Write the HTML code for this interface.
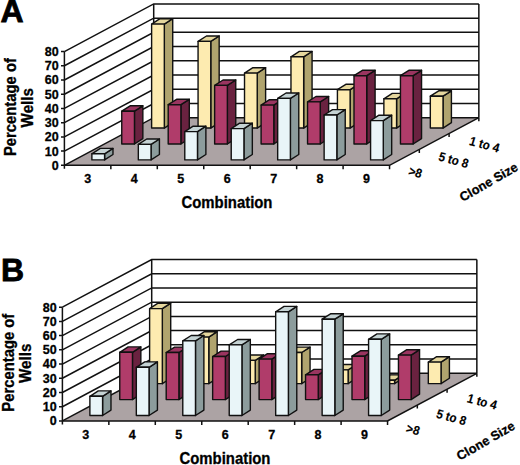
<!DOCTYPE html>
<html><head><meta charset="utf-8"><style>
html,body{margin:0;padding:0;background:#fff;}
body{width:520px;height:465px;overflow:hidden;}
svg{display:block;}
text{font-family:"Liberation Sans",sans-serif;font-weight:bold;fill:#000;stroke:#000;stroke-width:0.3px;}
.t12{font-size:12.5px;}
.dl{stroke-width:0.15px;}
.t15{font-size:15.6px;}
.t12b{font-size:12.8px;}
.t33{font-size:32px;stroke:#000;stroke-width:0.8px;}
</style></head><body>
<svg width="520" height="465" viewBox="0 0 520 465">
<rect width="520" height="465" fill="#fff"/>
<polygon points="64.4,165.35 64.4,51.55 153.7,3.9 153.7,117.7" fill="#fff"/>
<polygon points="153.7,117.7 153.7,3.9 478.85,3.9 478.85,117.7" fill="#fff"/>
<polygon points="64.4,165.35 389.55,165.35 478.85,117.7 153.7,117.7" fill="#aca3a4"/>
<path d="M64.4 165.35L153.7 117.7H478.85 M64.4 151.12L153.7 103.47H478.85 M64.4 136.9L153.7 89.25H478.85 M64.4 122.67L153.7 75.03H478.85 M64.4 108.45L153.7 60.8H478.85 M64.4 94.22L153.7 46.57H478.85 M64.4 80L153.7 32.35H478.85 M64.4 65.78L153.7 18.13H478.85 M64.4 51.55L153.7 3.9H478.85 M153.7 117.7V3.9 M478.85 117.7V3.9" stroke="#111" stroke-width="1.5" fill="none"/>
<path d="M64.4 165.35H389.55L478.85 117.7" stroke="#111" stroke-width="1.5" fill="none"/>
<polygon points="164.32,128.04 164.32,24.1 172.72,18.7 172.72,122.64" fill="#b0a46e" stroke="#111" stroke-width="1.4" stroke-linejoin="round"/>
<polygon points="151.62,24.1 160.02,18.7 172.72,18.7 164.32,24.1" fill="#e5d79e" stroke="#111" stroke-width="1.4" stroke-linejoin="round"/>
<polygon points="151.62,128.04 151.62,24.1 164.32,24.1 164.32,128.04" fill="#fdebb0" stroke="#111" stroke-width="1.4" stroke-linejoin="round"/>
<polygon points="210.77,128.04 210.77,41.4 219.17,36 219.17,122.64" fill="#b0a46e" stroke="#111" stroke-width="1.4" stroke-linejoin="round"/>
<polygon points="198.07,41.4 206.47,36 219.17,36 210.77,41.4" fill="#e5d79e" stroke="#111" stroke-width="1.4" stroke-linejoin="round"/>
<polygon points="198.07,128.04 198.07,41.4 210.77,41.4 210.77,128.04" fill="#fdebb0" stroke="#111" stroke-width="1.4" stroke-linejoin="round"/>
<polygon points="257.22,128.04 257.22,73.1 265.62,67.7 265.62,122.64" fill="#b0a46e" stroke="#111" stroke-width="1.4" stroke-linejoin="round"/>
<polygon points="244.52,73.1 252.92,67.7 265.62,67.7 257.22,73.1" fill="#e5d79e" stroke="#111" stroke-width="1.4" stroke-linejoin="round"/>
<polygon points="244.52,128.04 244.52,73.1 257.22,73.1 257.22,128.04" fill="#fdebb0" stroke="#111" stroke-width="1.4" stroke-linejoin="round"/>
<polygon points="303.67,128.04 303.67,56.8 312.07,51.4 312.07,122.64" fill="#b0a46e" stroke="#111" stroke-width="1.4" stroke-linejoin="round"/>
<polygon points="290.97,56.8 299.37,51.4 312.07,51.4 303.67,56.8" fill="#e5d79e" stroke="#111" stroke-width="1.4" stroke-linejoin="round"/>
<polygon points="290.97,128.04 290.97,56.8 303.67,56.8 303.67,128.04" fill="#fdebb0" stroke="#111" stroke-width="1.4" stroke-linejoin="round"/>
<polygon points="350.12,128.04 350.12,89.7 358.52,84.3 358.52,122.64" fill="#b0a46e" stroke="#111" stroke-width="1.4" stroke-linejoin="round"/>
<polygon points="337.42,89.7 345.82,84.3 358.52,84.3 350.12,89.7" fill="#e5d79e" stroke="#111" stroke-width="1.4" stroke-linejoin="round"/>
<polygon points="337.42,128.04 337.42,89.7 350.12,89.7 350.12,128.04" fill="#fdebb0" stroke="#111" stroke-width="1.4" stroke-linejoin="round"/>
<polygon points="396.57,128.04 396.57,98.8 404.97,93.4 404.97,122.64" fill="#b0a46e" stroke="#111" stroke-width="1.4" stroke-linejoin="round"/>
<polygon points="383.87,98.8 392.27,93.4 404.97,93.4 396.57,98.8" fill="#e5d79e" stroke="#111" stroke-width="1.4" stroke-linejoin="round"/>
<polygon points="383.87,128.04 383.87,98.8 396.57,98.8 396.57,128.04" fill="#fdebb0" stroke="#111" stroke-width="1.4" stroke-linejoin="round"/>
<polygon points="443.02,128.04 443.02,96.2 451.42,90.8 451.42,122.64" fill="#b0a46e" stroke="#111" stroke-width="1.4" stroke-linejoin="round"/>
<polygon points="430.32,96.2 438.72,90.8 451.42,90.8 443.02,96.2" fill="#e5d79e" stroke="#111" stroke-width="1.4" stroke-linejoin="round"/>
<polygon points="430.32,128.04 430.32,96.2 443.02,96.2 443.02,128.04" fill="#fdebb0" stroke="#111" stroke-width="1.4" stroke-linejoin="round"/>
<polygon points="134.45,143.98 134.45,111.2 142.85,105.8 142.85,138.58" fill="#6a2240" stroke="#111" stroke-width="1.4" stroke-linejoin="round"/>
<polygon points="121.75,111.2 130.15,105.8 142.85,105.8 134.45,111.2" fill="#9a3560" stroke="#111" stroke-width="1.4" stroke-linejoin="round"/>
<polygon points="121.75,143.98 121.75,111.2 134.45,111.2 134.45,143.98" fill="#b03c6a" stroke="#111" stroke-width="1.4" stroke-linejoin="round"/>
<polygon points="180.9,143.98 180.9,104.7 189.3,99.3 189.3,138.58" fill="#6a2240" stroke="#111" stroke-width="1.4" stroke-linejoin="round"/>
<polygon points="168.2,104.7 176.6,99.3 189.3,99.3 180.9,104.7" fill="#9a3560" stroke="#111" stroke-width="1.4" stroke-linejoin="round"/>
<polygon points="168.2,143.98 168.2,104.7 180.9,104.7 180.9,143.98" fill="#b03c6a" stroke="#111" stroke-width="1.4" stroke-linejoin="round"/>
<polygon points="227.35,143.98 227.35,85.4 235.75,80 235.75,138.58" fill="#6a2240" stroke="#111" stroke-width="1.4" stroke-linejoin="round"/>
<polygon points="214.65,85.4 223.05,80 235.75,80 227.35,85.4" fill="#9a3560" stroke="#111" stroke-width="1.4" stroke-linejoin="round"/>
<polygon points="214.65,143.98 214.65,85.4 227.35,85.4 227.35,143.98" fill="#b03c6a" stroke="#111" stroke-width="1.4" stroke-linejoin="round"/>
<polygon points="273.8,143.98 273.8,105.1 282.2,99.7 282.2,138.58" fill="#6a2240" stroke="#111" stroke-width="1.4" stroke-linejoin="round"/>
<polygon points="261.1,105.1 269.5,99.7 282.2,99.7 273.8,105.1" fill="#9a3560" stroke="#111" stroke-width="1.4" stroke-linejoin="round"/>
<polygon points="261.1,143.98 261.1,105.1 273.8,105.1 273.8,143.98" fill="#b03c6a" stroke="#111" stroke-width="1.4" stroke-linejoin="round"/>
<polygon points="320.25,143.98 320.25,101.9 328.65,96.5 328.65,138.58" fill="#6a2240" stroke="#111" stroke-width="1.4" stroke-linejoin="round"/>
<polygon points="307.55,101.9 315.95,96.5 328.65,96.5 320.25,101.9" fill="#9a3560" stroke="#111" stroke-width="1.4" stroke-linejoin="round"/>
<polygon points="307.55,143.98 307.55,101.9 320.25,101.9 320.25,143.98" fill="#b03c6a" stroke="#111" stroke-width="1.4" stroke-linejoin="round"/>
<polygon points="366.7,143.98 366.7,75.7 375.1,70.3 375.1,138.58" fill="#6a2240" stroke="#111" stroke-width="1.4" stroke-linejoin="round"/>
<polygon points="354,75.7 362.4,70.3 375.1,70.3 366.7,75.7" fill="#9a3560" stroke="#111" stroke-width="1.4" stroke-linejoin="round"/>
<polygon points="354,143.98 354,75.7 366.7,75.7 366.7,143.98" fill="#b03c6a" stroke="#111" stroke-width="1.4" stroke-linejoin="round"/>
<polygon points="413.15,143.98 413.15,75.7 421.55,70.3 421.55,138.58" fill="#6a2240" stroke="#111" stroke-width="1.4" stroke-linejoin="round"/>
<polygon points="400.45,75.7 408.85,70.3 421.55,70.3 413.15,75.7" fill="#9a3560" stroke="#111" stroke-width="1.4" stroke-linejoin="round"/>
<polygon points="400.45,143.98 400.45,75.7 413.15,75.7 413.15,143.98" fill="#b03c6a" stroke="#111" stroke-width="1.4" stroke-linejoin="round"/>
<polygon points="104.58,159.92 104.58,153.8 112.98,148.4 112.98,154.52" fill="#8c9c9c" stroke="#111" stroke-width="1.4" stroke-linejoin="round"/>
<polygon points="91.88,153.8 100.28,148.4 112.98,148.4 104.58,153.8" fill="#c5d3d4" stroke="#111" stroke-width="1.4" stroke-linejoin="round"/>
<polygon points="91.88,159.92 91.88,153.8 104.58,153.8 104.58,159.92" fill="#e9f5f8" stroke="#111" stroke-width="1.4" stroke-linejoin="round"/>
<polygon points="151.03,159.92 151.03,144.4 159.43,139 159.43,154.52" fill="#8c9c9c" stroke="#111" stroke-width="1.4" stroke-linejoin="round"/>
<polygon points="138.33,144.4 146.73,139 159.43,139 151.03,144.4" fill="#c5d3d4" stroke="#111" stroke-width="1.4" stroke-linejoin="round"/>
<polygon points="138.33,159.92 138.33,144.4 151.03,144.4 151.03,159.92" fill="#e9f5f8" stroke="#111" stroke-width="1.4" stroke-linejoin="round"/>
<polygon points="197.48,159.92 197.48,131.6 205.88,126.2 205.88,154.52" fill="#8c9c9c" stroke="#111" stroke-width="1.4" stroke-linejoin="round"/>
<polygon points="184.78,131.6 193.18,126.2 205.88,126.2 197.48,131.6" fill="#c5d3d4" stroke="#111" stroke-width="1.4" stroke-linejoin="round"/>
<polygon points="184.78,159.92 184.78,131.6 197.48,131.6 197.48,159.92" fill="#e9f5f8" stroke="#111" stroke-width="1.4" stroke-linejoin="round"/>
<polygon points="243.93,159.92 243.93,128.6 252.33,123.2 252.33,154.52" fill="#8c9c9c" stroke="#111" stroke-width="1.4" stroke-linejoin="round"/>
<polygon points="231.23,128.6 239.63,123.2 252.33,123.2 243.93,128.6" fill="#c5d3d4" stroke="#111" stroke-width="1.4" stroke-linejoin="round"/>
<polygon points="231.23,159.92 231.23,128.6 243.93,128.6 243.93,159.92" fill="#e9f5f8" stroke="#111" stroke-width="1.4" stroke-linejoin="round"/>
<polygon points="290.38,159.92 290.38,98.4 298.78,93 298.78,154.52" fill="#8c9c9c" stroke="#111" stroke-width="1.4" stroke-linejoin="round"/>
<polygon points="277.68,98.4 286.08,93 298.78,93 290.38,98.4" fill="#c5d3d4" stroke="#111" stroke-width="1.4" stroke-linejoin="round"/>
<polygon points="277.68,159.92 277.68,98.4 290.38,98.4 290.38,159.92" fill="#e9f5f8" stroke="#111" stroke-width="1.4" stroke-linejoin="round"/>
<polygon points="336.83,159.92 336.83,115 345.23,109.6 345.23,154.52" fill="#8c9c9c" stroke="#111" stroke-width="1.4" stroke-linejoin="round"/>
<polygon points="324.13,115 332.53,109.6 345.23,109.6 336.83,115" fill="#c5d3d4" stroke="#111" stroke-width="1.4" stroke-linejoin="round"/>
<polygon points="324.13,159.92 324.13,115 336.83,115 336.83,159.92" fill="#e9f5f8" stroke="#111" stroke-width="1.4" stroke-linejoin="round"/>
<polygon points="383.28,159.92 383.28,120.6 391.68,115.2 391.68,154.52" fill="#8c9c9c" stroke="#111" stroke-width="1.4" stroke-linejoin="round"/>
<polygon points="370.58,120.6 378.98,115.2 391.68,115.2 383.28,120.6" fill="#c5d3d4" stroke="#111" stroke-width="1.4" stroke-linejoin="round"/>
<polygon points="370.58,159.92 370.58,120.6 383.28,120.6 383.28,159.92" fill="#e9f5f8" stroke="#111" stroke-width="1.4" stroke-linejoin="round"/>
<path d="M64.4 51.55V168.85 M61 165.35H64.4 M61 151.12H64.4 M61 136.9H64.4 M61 122.67H64.4 M61 108.45H64.4 M61 94.22H64.4 M61 80H64.4 M61 65.78H64.4 M61 51.55H64.4 M110.85 165.35V169.35 M157.3 165.35V169.35 M203.75 165.35V169.35 M250.2 165.35V169.35 M296.65 165.35V169.35 M343.1 165.35V169.35 M389.55 165.35V169.35 M389.55 165.35V168.85 M419.32 149.47V152.97 M449.08 133.58V137.08 M478.85 117.7V121.2" stroke="#111" stroke-width="1.5" fill="none"/>
<text x="58.6" y="169.75" text-anchor="end" class="t12">0</text>
<text x="58.6" y="155.53" text-anchor="end" class="t12">10</text>
<text x="58.6" y="141.3" text-anchor="end" class="t12">20</text>
<text x="58.6" y="127.08" text-anchor="end" class="t12">30</text>
<text x="58.6" y="112.85" text-anchor="end" class="t12">40</text>
<text x="58.6" y="98.62" text-anchor="end" class="t12">50</text>
<text x="58.6" y="84.4" text-anchor="end" class="t12">60</text>
<text x="58.6" y="70.18" text-anchor="end" class="t12">70</text>
<text x="58.6" y="55.95" text-anchor="end" class="t12">80</text>
<text x="87.83" y="182.95" text-anchor="middle" class="t12">3</text>
<text x="134.28" y="182.95" text-anchor="middle" class="t12">4</text>
<text x="180.73" y="182.95" text-anchor="middle" class="t12">5</text>
<text x="227.18" y="182.95" text-anchor="middle" class="t12">6</text>
<text x="273.62" y="182.95" text-anchor="middle" class="t12">7</text>
<text x="320.07" y="182.95" text-anchor="middle" class="t12">8</text>
<text x="366.53" y="182.95" text-anchor="middle" class="t12">9</text>
<text x="226.98" y="208.15" text-anchor="middle" class="t15" textLength="91" lengthAdjust="spacingAndGlyphs">Combination</text>
<text transform="matrix(0.9,0.24,-0.3,0.97,407.63,174.81)" class="t12 dl">&gt;8</text>
<text transform="matrix(0.9,0.24,-0.3,0.97,437.7,160.33)" class="t12 dl">5 to 8</text>
<text transform="matrix(0.9,0.24,-0.3,0.97,468.57,144.74)" class="t12 dl">1 to 4</text>
<polygon points="62.4,420.95 62.4,307.15 151.7,259.5 151.7,373.3" fill="#fff"/>
<polygon points="151.7,373.3 151.7,259.5 476.85,259.5 476.85,373.3" fill="#fff"/>
<polygon points="62.4,420.95 387.55,420.95 476.85,373.3 151.7,373.3" fill="#aca3a4"/>
<path d="M62.4 420.95L151.7 373.3H476.85 M62.4 406.72L151.7 359.07H476.85 M62.4 392.5L151.7 344.85H476.85 M62.4 378.27L151.7 330.62H476.85 M62.4 364.05L151.7 316.4H476.85 M62.4 349.82L151.7 302.18H476.85 M62.4 335.6L151.7 287.95H476.85 M62.4 321.38L151.7 273.73H476.85 M62.4 307.15L151.7 259.5H476.85 M151.7 373.3V259.5 M476.85 373.3V259.5" stroke="#111" stroke-width="1.5" fill="none"/>
<path d="M62.4 420.95H387.55L476.85 373.3" stroke="#111" stroke-width="1.5" fill="none"/>
<polygon points="162.32,383.64 162.32,308.6 170.72,303.2 170.72,378.24" fill="#b0a46e" stroke="#111" stroke-width="1.4" stroke-linejoin="round"/>
<polygon points="149.62,308.6 158.02,303.2 170.72,303.2 162.32,308.6" fill="#e5d79e" stroke="#111" stroke-width="1.4" stroke-linejoin="round"/>
<polygon points="149.62,383.64 149.62,308.6 162.32,308.6 162.32,383.64" fill="#fdebb0" stroke="#111" stroke-width="1.4" stroke-linejoin="round"/>
<polygon points="208.77,383.64 208.77,337.1 217.17,331.7 217.17,378.24" fill="#b0a46e" stroke="#111" stroke-width="1.4" stroke-linejoin="round"/>
<polygon points="196.07,337.1 204.47,331.7 217.17,331.7 208.77,337.1" fill="#e5d79e" stroke="#111" stroke-width="1.4" stroke-linejoin="round"/>
<polygon points="196.07,383.64 196.07,337.1 208.77,337.1 208.77,383.64" fill="#fdebb0" stroke="#111" stroke-width="1.4" stroke-linejoin="round"/>
<polygon points="255.22,383.64 255.22,360.4 263.62,355 263.62,378.24" fill="#b0a46e" stroke="#111" stroke-width="1.4" stroke-linejoin="round"/>
<polygon points="242.52,360.4 250.92,355 263.62,355 255.22,360.4" fill="#e5d79e" stroke="#111" stroke-width="1.4" stroke-linejoin="round"/>
<polygon points="242.52,383.64 242.52,360.4 255.22,360.4 255.22,383.64" fill="#fdebb0" stroke="#111" stroke-width="1.4" stroke-linejoin="round"/>
<polygon points="301.67,383.64 301.67,352.5 310.07,347.1 310.07,378.24" fill="#b0a46e" stroke="#111" stroke-width="1.4" stroke-linejoin="round"/>
<polygon points="288.97,352.5 297.37,347.1 310.07,347.1 301.67,352.5" fill="#e5d79e" stroke="#111" stroke-width="1.4" stroke-linejoin="round"/>
<polygon points="288.97,383.64 288.97,352.5 301.67,352.5 301.67,383.64" fill="#fdebb0" stroke="#111" stroke-width="1.4" stroke-linejoin="round"/>
<polygon points="348.12,383.64 348.12,369.9 356.52,364.5 356.52,378.24" fill="#b0a46e" stroke="#111" stroke-width="1.4" stroke-linejoin="round"/>
<polygon points="335.42,369.9 343.82,364.5 356.52,364.5 348.12,369.9" fill="#e5d79e" stroke="#111" stroke-width="1.4" stroke-linejoin="round"/>
<polygon points="335.42,383.64 335.42,369.9 348.12,369.9 348.12,383.64" fill="#fdebb0" stroke="#111" stroke-width="1.4" stroke-linejoin="round"/>
<polygon points="394.57,383.64 394.57,380.3 402.97,374.9 402.97,378.24" fill="#b0a46e" stroke="#111" stroke-width="1.4" stroke-linejoin="round"/>
<polygon points="381.87,380.3 390.27,374.9 402.97,374.9 394.57,380.3" fill="#e5d79e" stroke="#111" stroke-width="1.4" stroke-linejoin="round"/>
<polygon points="381.87,383.64 381.87,380.3 394.57,380.3 394.57,383.64" fill="#fdebb0" stroke="#111" stroke-width="1.4" stroke-linejoin="round"/>
<polygon points="441.02,383.64 441.02,362.1 449.42,356.7 449.42,378.24" fill="#b0a46e" stroke="#111" stroke-width="1.4" stroke-linejoin="round"/>
<polygon points="428.32,362.1 436.72,356.7 449.42,356.7 441.02,362.1" fill="#e5d79e" stroke="#111" stroke-width="1.4" stroke-linejoin="round"/>
<polygon points="428.32,383.64 428.32,362.1 441.02,362.1 441.02,383.64" fill="#fdebb0" stroke="#111" stroke-width="1.4" stroke-linejoin="round"/>
<polygon points="132.45,399.58 132.45,352.3 140.85,346.9 140.85,394.18" fill="#6a2240" stroke="#111" stroke-width="1.4" stroke-linejoin="round"/>
<polygon points="119.75,352.3 128.15,346.9 140.85,346.9 132.45,352.3" fill="#9a3560" stroke="#111" stroke-width="1.4" stroke-linejoin="round"/>
<polygon points="119.75,399.58 119.75,352.3 132.45,352.3 132.45,399.58" fill="#b03c6a" stroke="#111" stroke-width="1.4" stroke-linejoin="round"/>
<polygon points="178.9,399.58 178.9,352.5 187.3,347.1 187.3,394.18" fill="#6a2240" stroke="#111" stroke-width="1.4" stroke-linejoin="round"/>
<polygon points="166.2,352.5 174.6,347.1 187.3,347.1 178.9,352.5" fill="#9a3560" stroke="#111" stroke-width="1.4" stroke-linejoin="round"/>
<polygon points="166.2,399.58 166.2,352.5 178.9,352.5 178.9,399.58" fill="#b03c6a" stroke="#111" stroke-width="1.4" stroke-linejoin="round"/>
<polygon points="225.35,399.58 225.35,356.5 233.75,351.1 233.75,394.18" fill="#6a2240" stroke="#111" stroke-width="1.4" stroke-linejoin="round"/>
<polygon points="212.65,356.5 221.05,351.1 233.75,351.1 225.35,356.5" fill="#9a3560" stroke="#111" stroke-width="1.4" stroke-linejoin="round"/>
<polygon points="212.65,399.58 212.65,356.5 225.35,356.5 225.35,399.58" fill="#b03c6a" stroke="#111" stroke-width="1.4" stroke-linejoin="round"/>
<polygon points="271.8,399.58 271.8,359.1 280.2,353.7 280.2,394.18" fill="#6a2240" stroke="#111" stroke-width="1.4" stroke-linejoin="round"/>
<polygon points="259.1,359.1 267.5,353.7 280.2,353.7 271.8,359.1" fill="#9a3560" stroke="#111" stroke-width="1.4" stroke-linejoin="round"/>
<polygon points="259.1,399.58 259.1,359.1 271.8,359.1 271.8,399.58" fill="#b03c6a" stroke="#111" stroke-width="1.4" stroke-linejoin="round"/>
<polygon points="318.25,399.58 318.25,374.8 326.65,369.4 326.65,394.18" fill="#6a2240" stroke="#111" stroke-width="1.4" stroke-linejoin="round"/>
<polygon points="305.55,374.8 313.95,369.4 326.65,369.4 318.25,374.8" fill="#9a3560" stroke="#111" stroke-width="1.4" stroke-linejoin="round"/>
<polygon points="305.55,399.58 305.55,374.8 318.25,374.8 318.25,399.58" fill="#b03c6a" stroke="#111" stroke-width="1.4" stroke-linejoin="round"/>
<polygon points="364.7,399.58 364.7,356.2 373.1,350.8 373.1,394.18" fill="#6a2240" stroke="#111" stroke-width="1.4" stroke-linejoin="round"/>
<polygon points="352,356.2 360.4,350.8 373.1,350.8 364.7,356.2" fill="#9a3560" stroke="#111" stroke-width="1.4" stroke-linejoin="round"/>
<polygon points="352,399.58 352,356.2 364.7,356.2 364.7,399.58" fill="#b03c6a" stroke="#111" stroke-width="1.4" stroke-linejoin="round"/>
<polygon points="411.15,399.58 411.15,355.1 419.55,349.7 419.55,394.18" fill="#6a2240" stroke="#111" stroke-width="1.4" stroke-linejoin="round"/>
<polygon points="398.45,355.1 406.85,349.7 419.55,349.7 411.15,355.1" fill="#9a3560" stroke="#111" stroke-width="1.4" stroke-linejoin="round"/>
<polygon points="398.45,399.58 398.45,355.1 411.15,355.1 411.15,399.58" fill="#b03c6a" stroke="#111" stroke-width="1.4" stroke-linejoin="round"/>
<polygon points="102.58,415.52 102.58,396.3 110.98,390.9 110.98,410.12" fill="#8c9c9c" stroke="#111" stroke-width="1.4" stroke-linejoin="round"/>
<polygon points="89.88,396.3 98.28,390.9 110.98,390.9 102.58,396.3" fill="#c5d3d4" stroke="#111" stroke-width="1.4" stroke-linejoin="round"/>
<polygon points="89.88,415.52 89.88,396.3 102.58,396.3 102.58,415.52" fill="#e9f5f8" stroke="#111" stroke-width="1.4" stroke-linejoin="round"/>
<polygon points="149.03,415.52 149.03,367.3 157.43,361.9 157.43,410.12" fill="#8c9c9c" stroke="#111" stroke-width="1.4" stroke-linejoin="round"/>
<polygon points="136.33,367.3 144.73,361.9 157.43,361.9 149.03,367.3" fill="#c5d3d4" stroke="#111" stroke-width="1.4" stroke-linejoin="round"/>
<polygon points="136.33,415.52 136.33,367.3 149.03,367.3 149.03,415.52" fill="#e9f5f8" stroke="#111" stroke-width="1.4" stroke-linejoin="round"/>
<polygon points="195.48,415.52 195.48,340.9 203.88,335.5 203.88,410.12" fill="#8c9c9c" stroke="#111" stroke-width="1.4" stroke-linejoin="round"/>
<polygon points="182.78,340.9 191.18,335.5 203.88,335.5 195.48,340.9" fill="#c5d3d4" stroke="#111" stroke-width="1.4" stroke-linejoin="round"/>
<polygon points="182.78,415.52 182.78,340.9 195.48,340.9 195.48,415.52" fill="#e9f5f8" stroke="#111" stroke-width="1.4" stroke-linejoin="round"/>
<polygon points="241.93,415.52 241.93,344.9 250.33,339.5 250.33,410.12" fill="#8c9c9c" stroke="#111" stroke-width="1.4" stroke-linejoin="round"/>
<polygon points="229.23,344.9 237.63,339.5 250.33,339.5 241.93,344.9" fill="#c5d3d4" stroke="#111" stroke-width="1.4" stroke-linejoin="round"/>
<polygon points="229.23,415.52 229.23,344.9 241.93,344.9 241.93,415.52" fill="#e9f5f8" stroke="#111" stroke-width="1.4" stroke-linejoin="round"/>
<polygon points="288.38,415.52 288.38,311.8 296.78,306.4 296.78,410.12" fill="#8c9c9c" stroke="#111" stroke-width="1.4" stroke-linejoin="round"/>
<polygon points="275.68,311.8 284.08,306.4 296.78,306.4 288.38,311.8" fill="#c5d3d4" stroke="#111" stroke-width="1.4" stroke-linejoin="round"/>
<polygon points="275.68,415.52 275.68,311.8 288.38,311.8 288.38,415.52" fill="#e9f5f8" stroke="#111" stroke-width="1.4" stroke-linejoin="round"/>
<polygon points="334.83,415.52 334.83,319.2 343.23,313.8 343.23,410.12" fill="#8c9c9c" stroke="#111" stroke-width="1.4" stroke-linejoin="round"/>
<polygon points="322.13,319.2 330.53,313.8 343.23,313.8 334.83,319.2" fill="#c5d3d4" stroke="#111" stroke-width="1.4" stroke-linejoin="round"/>
<polygon points="322.13,415.52 322.13,319.2 334.83,319.2 334.83,415.52" fill="#e9f5f8" stroke="#111" stroke-width="1.4" stroke-linejoin="round"/>
<polygon points="381.28,415.52 381.28,339.3 389.68,333.9 389.68,410.12" fill="#8c9c9c" stroke="#111" stroke-width="1.4" stroke-linejoin="round"/>
<polygon points="368.58,339.3 376.98,333.9 389.68,333.9 381.28,339.3" fill="#c5d3d4" stroke="#111" stroke-width="1.4" stroke-linejoin="round"/>
<polygon points="368.58,415.52 368.58,339.3 381.28,339.3 381.28,415.52" fill="#e9f5f8" stroke="#111" stroke-width="1.4" stroke-linejoin="round"/>
<path d="M62.4 307.15V424.45 M59 420.95H62.4 M59 406.72H62.4 M59 392.5H62.4 M59 378.27H62.4 M59 364.05H62.4 M59 349.82H62.4 M59 335.6H62.4 M59 321.38H62.4 M59 307.15H62.4 M108.85 420.95V424.95 M155.3 420.95V424.95 M201.75 420.95V424.95 M248.2 420.95V424.95 M294.65 420.95V424.95 M341.1 420.95V424.95 M387.55 420.95V424.95 M387.55 420.95V424.45 M417.32 405.07V408.57 M447.08 389.18V392.68 M476.85 373.3V376.8" stroke="#111" stroke-width="1.5" fill="none"/>
<text x="56.6" y="425.35" text-anchor="end" class="t12">0</text>
<text x="56.6" y="411.12" text-anchor="end" class="t12">10</text>
<text x="56.6" y="396.9" text-anchor="end" class="t12">20</text>
<text x="56.6" y="382.67" text-anchor="end" class="t12">30</text>
<text x="56.6" y="368.45" text-anchor="end" class="t12">40</text>
<text x="56.6" y="354.22" text-anchor="end" class="t12">50</text>
<text x="56.6" y="340" text-anchor="end" class="t12">60</text>
<text x="56.6" y="325.77" text-anchor="end" class="t12">70</text>
<text x="56.6" y="311.55" text-anchor="end" class="t12">80</text>
<text x="85.83" y="438.55" text-anchor="middle" class="t12">3</text>
<text x="132.28" y="438.55" text-anchor="middle" class="t12">4</text>
<text x="178.73" y="438.55" text-anchor="middle" class="t12">5</text>
<text x="225.18" y="438.55" text-anchor="middle" class="t12">6</text>
<text x="271.62" y="438.55" text-anchor="middle" class="t12">7</text>
<text x="318.07" y="438.55" text-anchor="middle" class="t12">8</text>
<text x="364.53" y="438.55" text-anchor="middle" class="t12">9</text>
<text x="224.98" y="463.75" text-anchor="middle" class="t15" textLength="91" lengthAdjust="spacingAndGlyphs">Combination</text>
<text transform="matrix(0.9,0.24,-0.3,0.97,405.33,432.01)" class="t12 dl">&gt;8</text>
<text transform="matrix(0.9,0.24,-0.3,0.97,435.4,417.53)" class="t12 dl">5 to 8</text>
<text transform="matrix(0.9,0.24,-0.3,0.97,466.27,401.94)" class="t12 dl">1 to 4</text>
<text x="0.6" y="21.9" class="t33">A</text>
<text x="1.0" y="280.8" class="t33">B</text>
<text transform="translate(16.4,107.1) rotate(-90)" text-anchor="middle" class="t15" textLength="97.9" lengthAdjust="spacingAndGlyphs">Percentage of</text>
<text transform="translate(32.8,107.7) rotate(-90)" text-anchor="middle" class="t15" textLength="39.4" lengthAdjust="spacingAndGlyphs">Wells</text>
<text transform="translate(462.8,202) rotate(-30)" class="t12b">Clone Size</text>
<text transform="translate(14.4,362.7) rotate(-90)" text-anchor="middle" class="t15" textLength="97.9" lengthAdjust="spacingAndGlyphs">Percentage of</text>
<text transform="translate(30.8,363.3) rotate(-90)" text-anchor="middle" class="t15" textLength="39.4" lengthAdjust="spacingAndGlyphs">Wells</text>
<text transform="translate(459.8,460.8) rotate(-30)" class="t12b">Clone Size</text>
</svg>
</body></html>
